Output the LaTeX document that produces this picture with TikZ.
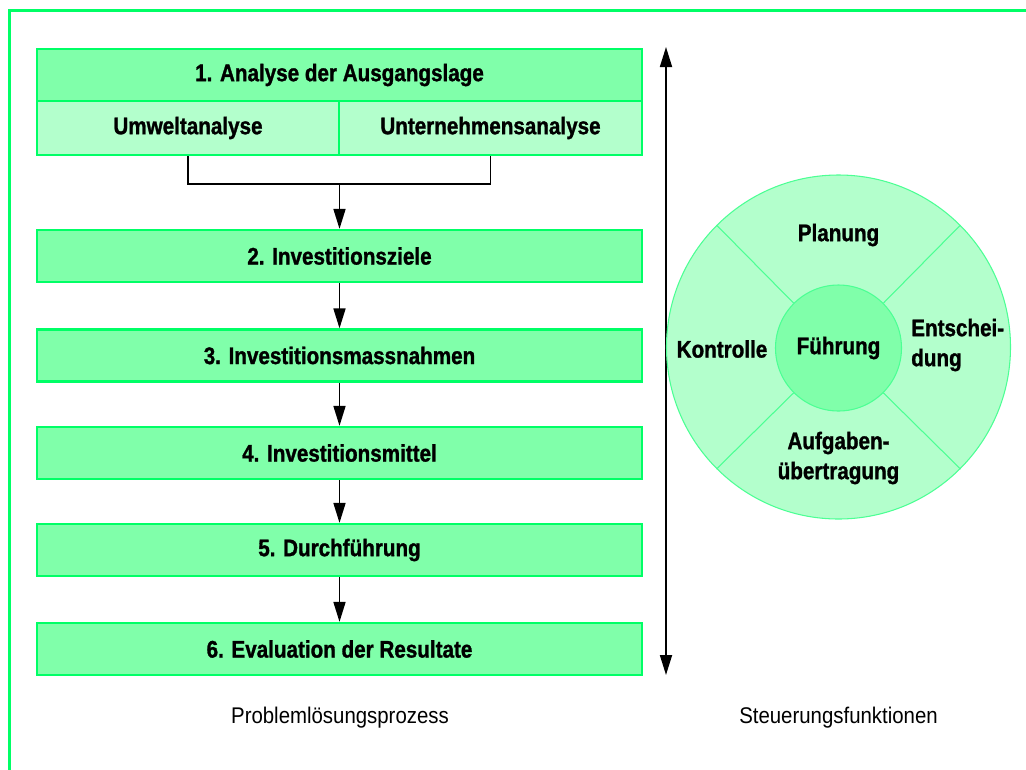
\documentclass[tikz,border=0pt]{standalone}
\usepackage{fontspec}
\setmainfont{Liberation Sans}[FakeStretch=0.86, BoldFeatures={FakeBold=1.2}]
\newfontfamily\labelfont{Liberation Sans}[FakeStretch=0.9]
\usetikzlibrary{arrows.meta}
\definecolor{frame}{RGB}{0,255,102}
\definecolor{dark}{RGB}{128,255,170}
\definecolor{light}{RGB}{179,255,204}
\tikzset{
  hdr/.style={draw=frame, line width=1.7pt, fill=dark, minimum width=453.75pt, minimum height=39pt, inner sep=0pt, font=\bfseries\fontsize{18}{21}\selectfont},
  sub/.style={draw=frame, line width=1.7pt, fill=light, minimum height=40.5pt, inner sep=0pt, font=\bfseries\fontsize{18}{21}\selectfont},
  conn/.style={line width=1.3pt, black},
  arr/.style={conn, -{Triangle[length=15pt,width=9pt]}},
  seg/.style={inner sep=0pt, font=\bfseries\fontsize{18}{22.5}\selectfont},
  segline/.style={draw=frame!70, line width=0.8pt},
  captext/.style={font=\labelfont\fontsize{17}{20}\selectfont}
}
\begin{document}
\begin{tikzpicture}[x=0.75pt,y=-0.75pt]
\useasboundingbox (0,0) rectangle (1026,769);
% frame
\draw[frame, line width=2.4pt] (9.5,780) -- (9.5,10.5) -- (1040,10.5);
% left boxes
\node[hdr] (b1) at (339.5,75) {1. Analyse der Ausgangslage};
\node[sub, minimum width=226.5pt] (u) at (188,128) {Umweltanalyse};
\node[sub, minimum width=227.25pt] (un) at (490.5,128) {Unternehmensanalyse};
\node[hdr] (b2) at (339.5,256) {2. Investitionsziele};
\node[hdr] (b3) at (339.5,355.5) {3. Investitionsmassnahmen};
\node[hdr] (b4) at (339.5,453) {4. Investitionsmittel};
\node[hdr] (b5) at (339.5,550) {5. Durchführung};
\node[hdr] (b6) at (339.5,649) {6. Evaluation der Resultate};
% connectors
\coordinate (j) at (339.5,184);
\draw[conn] (u.south) |- (j) -| (un.south);
\draw[arr] (j) -- (b2.north);
\draw[arr] (b2.south) -- (b3.north);
\draw[arr] (b3.south) -- (b4.north);
\draw[arr] (b4.south) -- (b5.north);
\draw[arr] (b5.south) -- (b6.north);
% vertical double arrow
\coordinate (vt) at (666,47);
\coordinate (vb) at (666,675);
\draw[conn, {Triangle[length=15pt,width=9pt]}-{Triangle[length=15pt,width=9pt]}] (vt) -- (vb);
% circle
\node[circle, segline, fill=light, minimum size=258pt, inner sep=0pt] (outer) at (838.5,347) {};
\node[circle, segline, fill=dark, minimum size=94.5pt, inner sep=0pt, font=\bfseries\fontsize{18}{21}\selectfont] (inner) at (838.5,348) {Führung};
\foreach \a in {45,135,225,315} {
  \draw[segline] (inner.\a) -- (outer.\a);
}
\node[seg] (plan) at (838.5,235) {Planung};
\node[seg] (kon) at (722,349) {Kontrolle};
\node[seg, anchor=west, align=left] (ent) at (911,345) {Entschei-\\dung};
\node[seg, align=center] (auf) at (838.5,458) {Aufgaben-\\übertragung};
% captions
\node[captext] (c1) at (340,718) {Problemlösungsprozess};
\node[captext] (c2) at (838.5,718) {Steuerungsfunktionen};
\end{tikzpicture}
\end{document}
